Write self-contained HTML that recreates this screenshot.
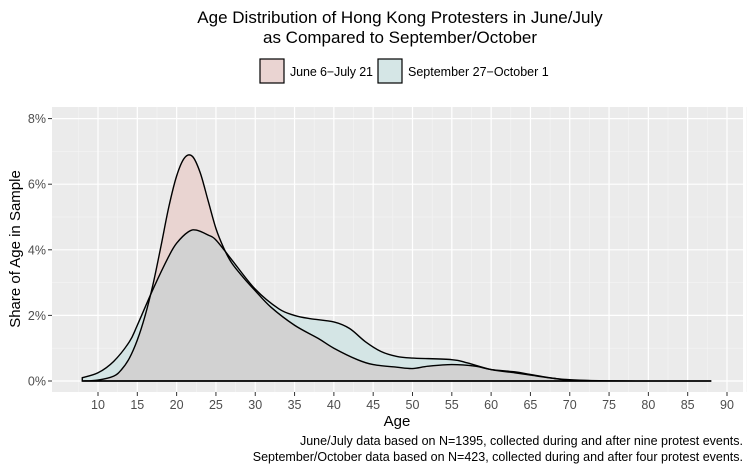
<!DOCTYPE html><html><head><meta charset="utf-8"><style>body{margin:0;background:#fff}svg{display:block;font-family:"Liberation Sans",Arial,sans-serif}</style></head><body>
<svg id="s" width="750" height="471" viewBox="0 0 750 471">
<text x="400" y="23" font-size="17" text-anchor="middle">Age Distribution of Hong Kong Protesters in June/July</text>
<text x="400" y="43" font-size="17" text-anchor="middle">as Compared to September/October</text>
<rect x="260" y="59" width="24" height="24" fill="#ead4d2" stroke="#000" stroke-width="1.2"/>
<text x="290" y="76" font-size="12.5" textLength="83">June 6−July 21</text>
<rect x="378" y="59" width="24" height="24" fill="#d5e6e6" stroke="#000" stroke-width="1.2"/>
<text x="408" y="76" font-size="12.5">September 27−October 1</text>
<rect x="52" y="107" width="691" height="285" fill="#ebebeb"/>
<defs><clipPath id="cb"><path id="cbp"/></clipPath></defs>
<g id="grid"></g>
<g id="curves"></g>
<g font-size="12.5" fill="#4d4d4d" id="ticks"></g>
<text x="397" y="426" font-size="15" text-anchor="middle">Age</text>
<text transform="translate(20,249) rotate(-90)" font-size="15" text-anchor="middle">Share of Age in Sample</text>
<text x="743" y="445" font-size="12.5" text-anchor="end">June/July data based on N=1395, collected during and after nine protest events.</text>
<text x="743" y="461" font-size="12.5" text-anchor="end">September/October data based on N=423, collected during and after four protest events.</text>
</svg>
<script>
const X=a=>98+(a-10)*7.8625, Y=p=>381-p*32.8;
const NS="http://www.w3.org/2000/svg";
function el(t,at,par){const e=document.createElementNS(NS,t);for(const k in at)e.setAttribute(k,at[k]);document.getElementById(par).appendChild(e);return e;}
for(let p=1;p<8;p+=2)el('line',{x1:52,x2:743,y1:Y(p),y2:Y(p),stroke:'#f5f5f5','stroke-width':0.6},'grid');
for(let a=7.5;a<=92.5;a+=5)el('line',{x1:X(a),x2:X(a),y1:107,y2:392,stroke:'#f5f5f5','stroke-width':0.6},'grid');
for(let p=0;p<=8;p+=2){el('line',{x1:52,x2:743,y1:Y(p),y2:Y(p),stroke:'#fff','stroke-width':1.2},'grid');
el('line',{x1:48,x2:52,y1:Y(p),y2:Y(p),stroke:'#333','stroke-width':1},'ticks');
const t=el('text',{x:46,y:Y(p)+4.5,'text-anchor':'end'},'ticks');t.textContent=p+'%';}
for(let a=10;a<=90;a+=5){el('line',{x1:X(a),x2:X(a),y1:107,y2:392,stroke:'#fff','stroke-width':1.2},'grid');
el('line',{x1:X(a),x2:X(a),y1:392,y2:396,stroke:'#333','stroke-width':1},'ticks');
const t=el('text',{x:X(a),y:409,'text-anchor':'middle'},'ticks');t.textContent=a;}
const pink=[[8,0],[10,0.03],[12,0.15],[13,0.35],[14,0.7],[15,1.25],[16,2.0],[17,2.95],[18,4.1],[19,5.3],[20,6.25],[21,6.8],[22,6.85],[23,6.35],[24,5.5],[25,4.65],[26,4.05],[27,3.6],[28.5,3.15],[30,2.75],[32,2.25],[35,1.7],[38,1.3],[40,1.0],[43,0.65],[45,0.5],[48,0.42],[50,0.38],[52,0.45],[55,0.5],[58,0.45],[60,0.35],[63,0.28],[65,0.2],[68,0.08],[70,0.03],[75,0.005],[88,0]];
const blue=[[8,0.1],[10,0.25],[12,0.6],[14,1.2],[15,1.7],[17,2.8],[19,3.8],[20,4.2],[21.5,4.55],[22.5,4.6],[24,4.45],[25,4.3],[27,3.7],[30,2.8],[33,2.2],[35,2.0],[37,1.9],[40,1.8],[42,1.6],[44,1.2],[46,0.9],[48,0.75],[50,0.7],[55,0.65],[57,0.55],[60,0.35],[63,0.25],[65,0.18],[68,0.08],[70,0.04],[75,0.005],[88,0]];
function path(d){const P=d.map(([a,p])=>[X(a),Y(p)]);let s='M'+P[0][0]+','+P[0][1];
for(let i=0;i<P.length-1;i++){const p0=P[Math.max(0,i-1)],p1=P[i],p2=P[i+1],p3=P[Math.min(P.length-1,i+2)];
s+=` C${p1[0]+(p2[0]-p0[0])/6},${p1[1]+(p2[1]-p0[1])/6} ${p2[0]-(p3[0]-p1[0])/6},${p2[1]-(p3[1]-p1[1])/6} ${p2[0]},${p2[1]}`;}
return s;}
const close=` L${X(88)},${Y(0)} L${X(8)},${Y(0)} Z`;
const bp=path(blue)+close, pp=path(pink)+close;
document.getElementById('cbp').setAttribute('d',bp);
el('path',{d:bp,fill:'#d4e5e5'},'curves');
el('path',{d:pp,fill:'#e9d4d1'},'curves');
el('path',{d:pp,fill:'#d2d2d2','clip-path':'url(#cb)'},'curves');
el('path',{d:bp,fill:'none',stroke:'#000','stroke-width':1.4},'curves');
el('path',{d:pp,fill:'none',stroke:'#000','stroke-width':1.4},'curves');
</script>
</body></html>
